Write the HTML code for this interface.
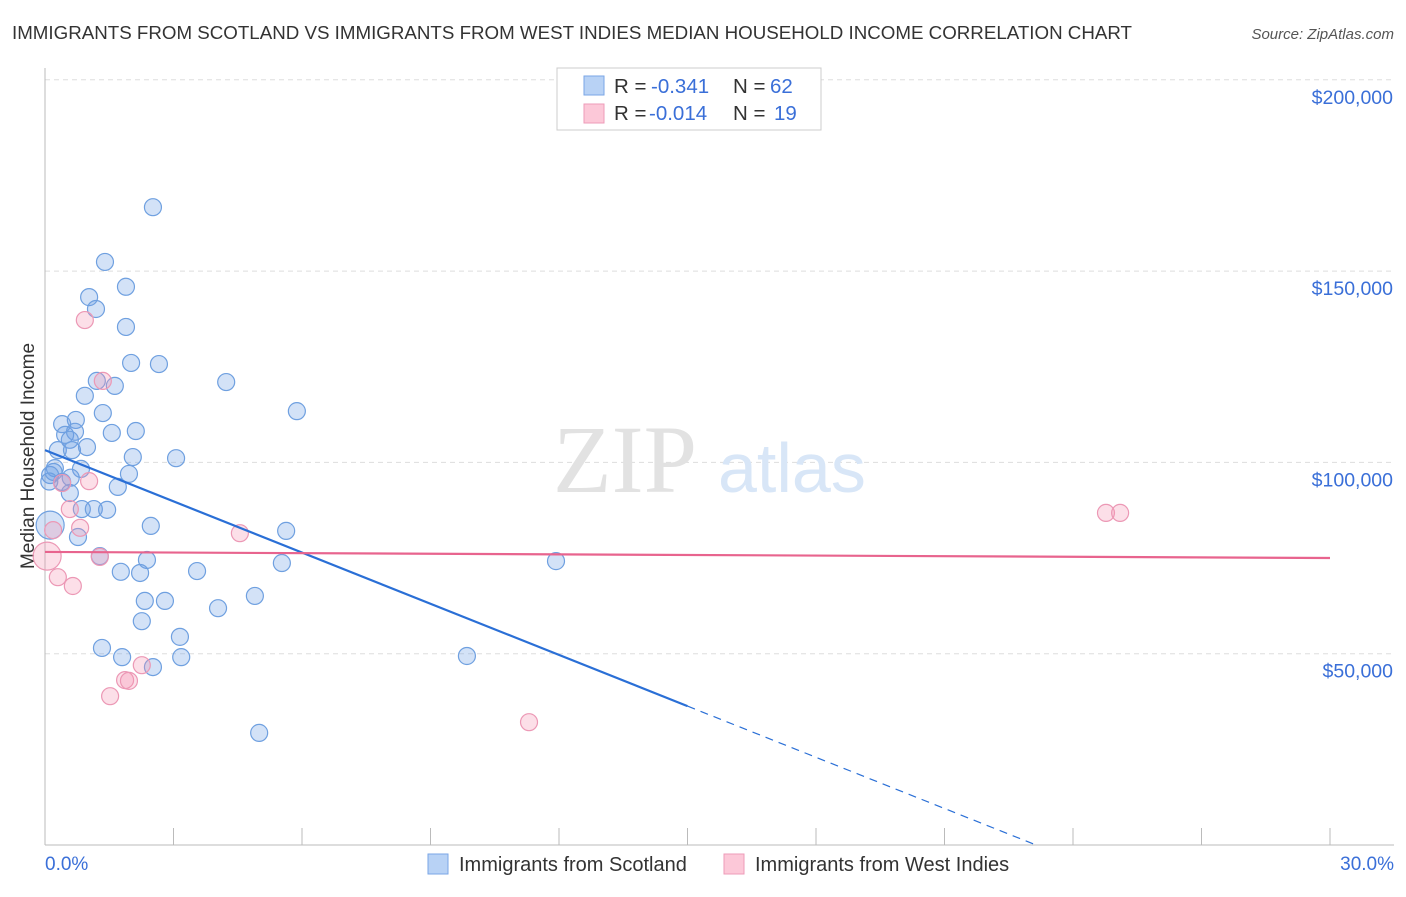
<!DOCTYPE html>
<html><head><meta charset="utf-8"><style>
body{margin:0;background:#fff;font-family:"Liberation Sans",sans-serif;}
</style></head><body>
<svg width="1406" height="892" viewBox="0 0 1406 892" xmlns="http://www.w3.org/2000/svg">
<text x="12" y="39" font-size="18" fill="#333" textLength="1120" lengthAdjust="spacingAndGlyphs">IMMIGRANTS FROM SCOTLAND VS IMMIGRANTS FROM WEST INDIES MEDIAN HOUSEHOLD INCOME CORRELATION CHART</text>
<text x="1394" y="39" font-size="15" fill="#555" font-style="italic" text-anchor="end">Source: ZipAtlas.com</text>
<g id="grid"></g>
<text x="553" y="492" font-size="96" fill="#e2e2e2" font-family="Liberation Serif">ZIP</text>
<text x="718" y="492" font-size="70" fill="#d8e6f7">atlas</text>
<line x1="45" y1="68" x2="45" y2="845" stroke="#bbb"/>
<line x1="45" y1="845" x2="1394" y2="845" stroke="#bbb"/>
<g id="ticks"></g>
<text transform="translate(34,456) rotate(-90)" font-size="19" fill="#333" text-anchor="middle">Median Household Income</text>
<text x="45" y="870" font-size="19" fill="#3a6fd8">0.0%</text>
<text x="1394" y="870" font-size="19" fill="#3a6fd8" text-anchor="end">30.0%</text>
<g id="pts"></g>
<g id="lines"></g>
<g>
<rect x="557" y="68" width="264" height="62" fill="#fff" stroke="#ccc"/>
<rect x="584" y="76" width="20" height="19" fill="#b8d2f5" stroke="#7aa6e6"/>
<rect x="584" y="104" width="20" height="19" fill="#fcc8d8" stroke="#ee9bb8"/>
<text x="614" y="93" font-size="20.5" fill="#333">R = <tspan x="651" fill="#3a6fd8">-0.341</tspan><tspan x="733">N = </tspan><tspan x="770" fill="#3a6fd8">62</tspan></text>
<text x="614" y="120" font-size="20.5" fill="#333">R = <tspan x="649" fill="#3a6fd8">-0.014</tspan><tspan x="733">N = </tspan><tspan x="774" fill="#3a6fd8">19</tspan></text>
</g>
<g>
<rect x="428" y="854" width="20" height="20" fill="#b8d2f5" stroke="#7aa6e6"/>
<text x="459" y="871" font-size="20" fill="#333">Immigrants from Scotland</text>
<rect x="724" y="854" width="20" height="20" fill="#fcc8d8" stroke="#ee9bb8"/>
<text x="755" y="871" font-size="20" fill="#333">Immigrants from West Indies</text>
</g>
</svg>
<script>
const yTicks=[50000,100000,150000,200000];
const yTickLabels=["$50,000","$100,000","$150,000","$200,000"];
const blueX=[2.52,1.40,1.89,1.03,1.19,1.89,2.01,2.66,1.21,1.63,4.23,0.93,1.35,5.88,0.40,0.72,0.47,0.70,1.56,2.12,0.58,0.30,0.63,0.98,2.05,3.06,0.23,0.84,0.12,1.96,0.40,1.70,0.58,0.86,1.14,1.45,0.12,2.47,5.63,0.77,1.28,2.38,11.93,5.53,1.77,2.22,3.55,2.33,2.80,4.90,4.04,2.26,3.15,1.33,1.80,3.18,9.85,2.52,5.00,0.20,0.60,0.10];
const blueY=[166.7,152.4,145.9,143.2,140.1,135.4,126.0,125.7,121.3,120.0,121.0,117.4,112.9,113.4,110.0,111.1,107.2,108.0,107.7,108.2,105.9,103.2,103.2,104.0,101.4,101.1,98.5,98.3,96.7,97.0,94.9,93.6,92.0,87.8,87.8,87.6,83.6,83.4,82.1,80.5,75.5,74.5,74.2,73.7,71.4,71.1,71.6,63.8,63.8,65.1,61.9,58.5,54.4,51.5,49.1,49.1,49.4,46.5,29.3,97.5,96.0,95.0];
const pinkX=[0.93,1.35,1.03,0.40,0.58,0.82,4.55,0.19,0.05,1.28,0.30,0.65,2.26,1.87,1.96,1.52,11.30,24.77,25.10];
const pinkY=[137.2,121.3,95.1,94.6,87.8,82.9,81.5,82.3,75.5,75.3,70.0,67.7,47.0,43.1,42.9,38.9,32.1,86.8,86.8];
const blueTrend=[103.2,-4.46];
const pinkTrend=[76.6,-0.053];
const NS="http://www.w3.org/2000/svg";
const X=v=>45+v/30*1285;
const Y=v=>845-v/50000*191.3;
function mk(t,a,p){const e=document.createElementNS(NS,t);for(const k in a)e.setAttribute(k,a[k]);document.getElementById(p).appendChild(e);return e;}
yTicks.forEach((t,i)=>{
 let l=mk('line',{x1:45,x2:1394,y1:Y(t),y2:Y(t),stroke:'#ddd','stroke-dasharray':'5,4'},'grid');
 
 
 let tx=mk('text',{x:1393,y:Y(t)+24,'font-size':19.5,fill:'#3a6fd8','text-anchor':'end'},'grid');
 tx.textContent=yTickLabels[i];
 
 
});
for(let i=0;i<=10;i++){
 let l=mk('line',{x1:X(i*3),x2:X(i*3),y1:828,y2:845,stroke:'#bbb'},'ticks');
 
 
}
function pts(xs,ys,fill,stroke,name){xs.forEach((x,i)=>{
 let r=(name==='blue-point'&&i===36)||(name==='pink-point'&&i===8)?14:8.5;
 let c=mk('circle',{cx:X(x),cy:Y(ys[i]*1000),r:r,fill:fill,stroke:stroke,'stroke-width':1.2},'pts');
 
 
});}
pts(blueX,blueY,'rgba(110,160,230,0.3)','#6fa0e0','blue-point');
pts(pinkX,pinkY,'rgba(245,150,180,0.3)','#ec98b5','pink-point');
const by=x=>Y((blueTrend[0]+blueTrend[1]*x)*1000);
let b1=mk('line',{x1:X(0),y1:by(0),x2:X(15),y2:by(15),stroke:'#2a6fd6','stroke-width':2.2},'lines');


const xz=-blueTrend[0]/blueTrend[1];
let b2=mk('line',{x1:X(15),y1:by(15),x2:X(xz),y2:by(xz),stroke:'#2a6fd6','stroke-width':1.2,'stroke-dasharray':'8,6'},'lines');


const py=x=>Y((pinkTrend[0]+pinkTrend[1]*x)*1000);
let p1=mk('line',{x1:X(0),y1:py(0),x2:X(30),y2:py(30),stroke:'#e8648e','stroke-width':2.2},'lines');


</script>
</body></html>
